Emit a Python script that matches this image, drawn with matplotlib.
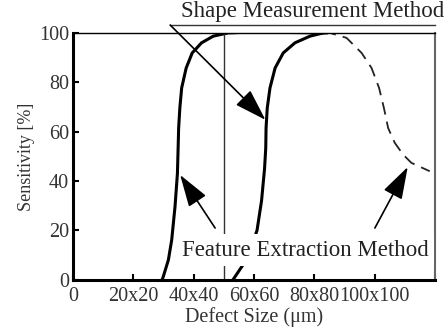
import numpy as np
import matplotlib
matplotlib.use('Agg')
from matplotlib import pyplot as plt

# feature extraction method, solid curve (left)
fe_x = [29.5, 29.9, 31.6, 32.7, 33.8, 34.6, 34.9, 35.0, 35.4, 36.0, 37.5, 39.5,
        42.6, 46.5, 51.4, 60.0, 70.0, 84.0]
fe_y = [0, 1.3, 8.1, 16.2, 29.7, 43.2, 56.7, 61.5, 69.6, 77.7, 85.8, 91.9,
        96.0, 98.7, 100, 100.4, 100.2, 100]

# shape measurement method, solid curve (right)
sm_x = [53.0, 56.3, 59.0, 61.0, 62.5, 63.5, 63.9, 64.0, 64.4, 65.3, 67.0, 69.7,
        73.6, 78.6, 83.0]
sm_y = [0, 6, 13, 20, 32, 45, 53.4, 61.5, 69.6, 77.7, 85.8, 91.9,
        96.0, 98.7, 100]

# feature extraction method, dashed continuation
fd_x = [83.0, 85.2, 90.7, 95.7, 99.0, 101.5, 103.1, 104.5, 106.7, 109.5, 112.2, 118.3]
fd_y = [100, 100, 98, 91.9, 85.8, 77.7, 69.6, 61.5, 55.5, 50.7, 47.4, 44.0]

xticks = [0, 20, 40, 60, 80, 100, 120]
xlabels = ['0', '20x20', '40x40', '60x60', '80x80', '100x100', '']
yticks = [0, 20, 40, 60, 80, 100]

plt.rcParams['font.family'] = ['Liberation Serif', 'DejaVu Serif']

fig = plt.figure(figsize=(4.46, 3.36), dpi=100)
ax = fig.add_axes([0.164, 0.167, 0.811, 0.735])

ax.plot(fe_x, fe_y, color='black', lw=2.2, solid_joinstyle='round')
ax.plot(sm_x, sm_y, color='black', lw=2.2, solid_joinstyle='round')
ax.plot(fd_x, fd_y, color='#222222', lw=1.3, dashes=(7, 4))
ax.plot([50, 50], [0, 100], color='#333333', lw=1.0)

ax.set_xlim(0, 120)
ax.set_ylim(0, 100)
ax.set_xticks(xticks)
ax.set_xticklabels(xlabels, fontsize=14.5, color='#333333')
ax.set_yticks(yticks)
ax.set_yticklabels([str(v) for v in yticks], fontsize=14.5, color='#333333')
ax.tick_params(direction='in', length=4, width=1.5, pad=3)
ax.tick_params(axis='x', pad=5)

ax.spines['left'].set_linewidth(2.2)
ax.spines['bottom'].set_linewidth(2.2)
ax.spines['top'].set_linewidth(1.0)
ax.spines['right'].set_linewidth(1.5)
ax.spines['right'].set_color('#666666')

ax.set_ylabel('Sensitivity [%]', fontsize=13, color='#333333', labelpad=3)
ax.set_xlabel('Defect Size (\u03bcm)', fontsize=14.5, color='#333333', labelpad=1)

# labels and arrows
ax.text(79.5, 108.5, 'Shape Measurement Method', fontsize=16.5, ha='center',
        va='center', color='#222222', clip_on=False)
ax.plot([32.2, 120], [103.2, 103.2], color='#333333', lw=1.0, clip_on=False)
head = '-|>,head_length=1.0,head_width=0.32'
ax.annotate('', xy=(63.8, 64.8), xytext=(32.2, 103.2),
            arrowprops=dict(arrowstyle=head, mutation_scale=20, lw=1.2,
                            color='black', shrinkA=0, shrinkB=0),
            annotation_clip=False)

ax.text(77.0, 12.0, 'Feature Extraction Method', fontsize=16.5, ha='center',
        va='center', color='#222222',
        bbox=dict(facecolor='white', edgecolor='none', pad=4), zorder=5)
ax.annotate('', xy=(35.5, 42.5), xytext=(47.1, 21.0),
            arrowprops=dict(arrowstyle=head, mutation_scale=20, lw=1.2,
                            color='black', shrinkA=0, shrinkB=0))
ax.annotate('', xy=(111.0, 45.7), xytext=(100.1, 21.0),
            arrowprops=dict(arrowstyle=head, mutation_scale=20, lw=1.2,
                            color='black', shrinkA=0, shrinkB=0))

fig.savefig('out.png', dpi=100)
